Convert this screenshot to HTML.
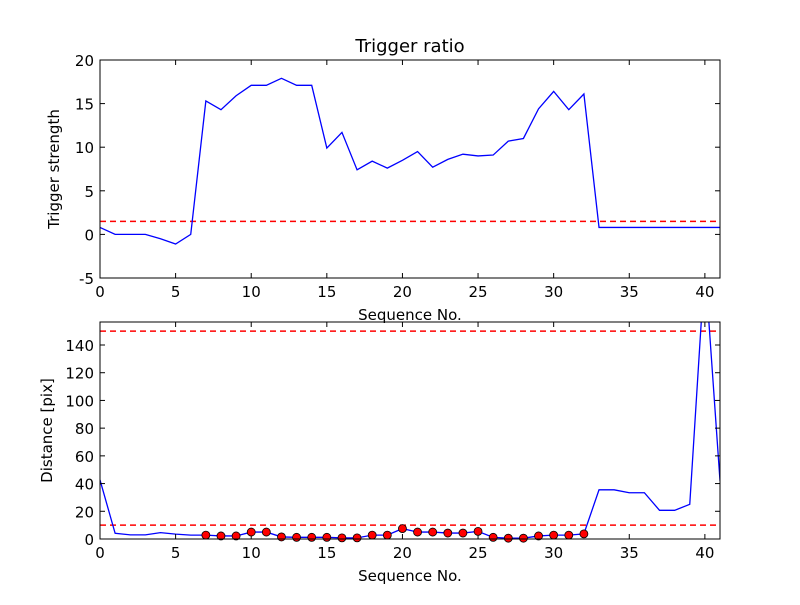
<!DOCTYPE html>
<html><head><meta charset="utf-8"><style>
body{margin:0;background:#fff}
svg{font-family:"DejaVu Sans","Liberation Sans",sans-serif}
</style></head><body>
<svg id="c" width="800" height="600" xmlns="http://www.w3.org/2000/svg"></svg>
<script>
const seq=[...Array(42).keys()];
const strength=[0.8,0,0,0,-0.5,-1.1,0,15.3,14.3,15.9,17.1,17.1,17.9,17.1,17.1,9.9,11.7,7.4,8.4,7.6,8.5,9.5,7.7,8.6,9.2,9.0,9.1,10.7,11.0,14.4,16.4,14.3,16.1,0.8,0.8,0.8,0.8,0.8,0.8,0.8,0.8,0.8];
const strengthThreshold=1.5;
const distance=[42.6,4.1,3,3,4.6,3.5,2.8,2.8,2.2,2.2,5,5,1.5,1.2,1.2,1.2,0.8,0.8,2.8,2.8,7.5,5,5,4.3,4.3,5.5,1.2,0.6,0.6,2.2,2.8,2.8,3.7,35.5,35.5,33.4,33.4,20.7,20.7,25,198,42];
const markerStart=7, markerEnd=32;
const distThresholds=[150,10];
const topYTicks=[-5,0,5,10,15,20];
const botYTicks=[0,20,40,60,80,100,120,140];
const xTicks=[0,5,10,15,20,25,30,35,40];

const NS="http://www.w3.org/2000/svg";
const svg=document.getElementById('c');
function mk(t,a,p){const e=document.createElementNS(NS,t);for(const k in a)e.setAttribute(k,a[k]);(p||svg).appendChild(e);return e;}
const L=100,R=720;
const sx=v=>L+(v/41)*(R-L);
function axes(top,bot,ymin,ymax,yt,name,ylabel,title){
  const sy=v=>bot-(v-ymin)/(ymax-ymin)*(bot-top);
  const g=mk('g',{});
  
  
  const cid='clip'+name;
  const cp=mk('clipPath',{id:cid},g);mk('rect',{x:L,y:top,width:R-L,height:bot-top},cp);
  const plot=mk('g',{'clip-path':'url(#'+cid+')'},g);
  xTicks.forEach(v=>{const x=sx(v);
    mk('line',{x1:x,x2:x,y1:bot,y2:bot-5,stroke:'#000'},g);
    mk('line',{x1:x,x2:x,y1:top,y2:top+5,stroke:'#000'},g);
    const t=mk('text',{x:x,y:bot+19,'text-anchor':'middle','font-size':15},g);t.textContent=v;
    });
  yt.forEach(v=>{const y=sy(v);
    mk('line',{x1:L,x2:L+5,y1:y,y2:y,stroke:'#000'},g);
    mk('line',{x1:R,x2:R-5,y1:y,y2:y,stroke:'#000'},g);
    const t=mk('text',{x:L-6,y:y+6,'text-anchor':'end','font-size':15},g);t.textContent=v;
    });
  const xl=mk('text',{x:(L+R)/2,y:bot+42,'text-anchor':'middle','font-size':15},g);xl.textContent='Sequence No.';
  
  const yl=mk('text',{x:0,y:0,'text-anchor':'middle','font-size':15,transform:`translate(${name=='top-axes'?59:52},${(top+bot)/2}) rotate(-90)`},g);yl.textContent=ylabel;
  
  if(title){const tt=mk('text',{x:(L+R)/2,y:top-8,'text-anchor':'middle','font-size':18},g);tt.textContent=title;
    }
  return {g,plot,sy,top,bot};
}
const A=axes(60,278,-5,20,topYTicks,'top-axes','Trigger strength','Trigger ratio');
const th=mk('line',{x1:L,x2:R,y1:A.sy(strengthThreshold),y2:A.sy(strengthThreshold),stroke:'#f00','stroke-dasharray':'6,4','stroke-width':1.5},A.plot);

const l1=mk('polyline',{points:strength.map((v,i)=>sx(seq[i])+','+A.sy(v)).join(' '),fill:'none',stroke:'blue','stroke-width':1.3},A.plot);

mk('rect',{x:L,y:60,width:R-L,height:218,fill:'none',stroke:'#000'},A.g);

const B=axes(322,539,0,156.6,botYTicks,'bottom-axes','Distance [pix]',null);
distThresholds.forEach(v=>{const e=mk('line',{x1:L,x2:R,y1:B.sy(v),y2:B.sy(v),stroke:'#f00','stroke-dasharray':'6,4','stroke-width':1.5},B.plot);
  });
const l2=mk('polyline',{points:distance.map((v,i)=>sx(seq[i])+','+B.sy(v)).join(' '),fill:'none',stroke:'blue','stroke-width':1.3},B.plot);

for(let i=markerStart;i<=markerEnd;i++){
  const c=mk('circle',{cx:sx(seq[i]),cy:B.sy(distance[i]),r:4,fill:'red',stroke:'#000','stroke-width':0.8},B.g);
  
  
}
mk('rect',{x:L,y:322,width:R-L,height:217,fill:'none',stroke:'#000'},B.g);
</script>
</body></html>
